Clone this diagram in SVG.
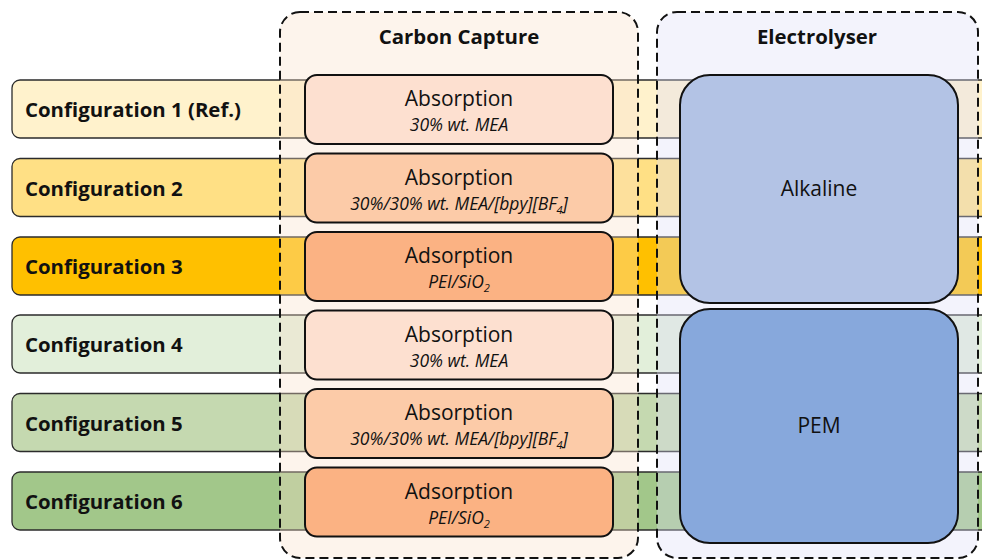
<svg xmlns="http://www.w3.org/2000/svg" width="982" height="559" viewBox="0 0 982 559">
<style>
.bar{stroke:#2b2b2b;stroke-width:1.3}
.grp{stroke:#111;stroke-width:2;stroke-dasharray:9 5;opacity:1}
.cc{fill:#F9E0C8;fill-opacity:0.35}
.el{fill:#DCDCF5;fill-opacity:0.35}
.box{stroke:#111;stroke-width:2}
.cfg{font-family:"Open Sans","Liberation Sans",sans-serif;font-weight:bold;font-size:20.4px;fill:#111}
.ttl{font-family:"Open Sans","Liberation Sans",sans-serif;font-weight:bold;font-size:20.4px;fill:#111;text-anchor:middle}
.nm{font-family:"Open Sans","Liberation Sans",sans-serif;font-size:21px;fill:#111;text-anchor:middle}
.sub{font-family:"Open Sans","Liberation Sans",sans-serif;font-style:italic;font-size:17.5px;fill:#111;text-anchor:middle}
</style>
<g id="config1"><rect class="bar" x="12" y="80" width="990" height="58" rx="8" fill="#FFF2CC"/><text class="cfg" x="25" y="117">Configuration 1 (Ref.)</text></g>
<g id="config2"><rect class="bar" x="12" y="158.5" width="990" height="58" rx="8" fill="#FFE085"/><text class="cfg" x="25" y="195.5">Configuration 2</text></g>
<g id="config3"><rect class="bar" x="12" y="237" width="990" height="58" rx="8" fill="#FFC000"/><text class="cfg" x="25" y="274">Configuration 3</text></g>
<g id="config4"><rect class="bar" x="12" y="315" width="990" height="58" rx="8" fill="#E2EFDA"/><text class="cfg" x="25" y="352">Configuration 4</text></g>
<g id="config5"><rect class="bar" x="12" y="393.5" width="990" height="58" rx="8" fill="#C5D9B0"/><text class="cfg" x="25" y="430.5">Configuration 5</text></g>
<g id="config6"><rect class="bar" x="12" y="472" width="990" height="58" rx="8" fill="#A2C78A"/><text class="cfg" x="25" y="509">Configuration 6</text></g>

<g id="carbon-capture"><rect class="grp cc" x="280" y="12" width="358" height="546" rx="20"/><text class="ttl" x="459" y="44">Carbon Capture</text></g>
<g id="electrolyser"><rect class="grp el" x="657" y="12" width="321" height="546" rx="20"/><text class="ttl" x="817" y="44">Electrolyser</text></g>

<g id="cc1"><rect class="box" x="305" y="75" width="308" height="69" rx="12" fill="#FDE0D0"/><text class="nm" x="459" y="106">Absorption</text><text class="sub" x="459" y="131">30% wt. MEA</text></g>
<g id="cc2"><rect class="box" x="305" y="153.5" width="308" height="69" rx="12" fill="#FCCBA8"/><text class="nm" x="459" y="184.5">Absorption</text><text class="sub" x="459" y="209.5">30%/30% wt. MEA/[bpy][BF<tspan font-size="11" dy="4">4</tspan><tspan dy="-4">]</tspan></text></g>
<g id="cc3"><rect class="box" x="305" y="232" width="308" height="69" rx="12" fill="#FBB283"/><text class="nm" x="459" y="263">Adsorption</text><text class="sub" x="459" y="288">PEI/SiO<tspan font-size="11" dy="4">2</tspan></text></g>
<g id="cc4"><rect class="box" x="305" y="310.5" width="308" height="69" rx="12" fill="#FDE0D0"/><text class="nm" x="459" y="341.5">Absorption</text><text class="sub" x="459" y="366.5">30% wt. MEA</text></g>
<g id="cc5"><rect class="box" x="305" y="389" width="308" height="69" rx="12" fill="#FCCBA8"/><text class="nm" x="459" y="420">Absorption</text><text class="sub" x="459" y="445">30%/30% wt. MEA/[bpy][BF<tspan font-size="11" dy="4">4</tspan><tspan dy="-4">]</tspan></text></g>
<g id="cc6"><rect class="box" x="305" y="467.5" width="308" height="69" rx="12" fill="#FBB283"/><text class="nm" x="459" y="498.5">Adsorption</text><text class="sub" x="459" y="523.5">PEI/SiO<tspan font-size="11" dy="4">2</tspan></text></g>

<g id="alkaline"><rect class="box" x="680" y="75" width="278" height="228" rx="30" fill="#B3C3E5"/><text class="nm" x="819" y="196">Alkaline</text></g>
<g id="pem"><rect class="box" x="680" y="309" width="278" height="234" rx="30" fill="#87A8DC"/><text class="nm" x="819" y="433">PEM</text></g>
<g id="connectors"></g>
</svg>
